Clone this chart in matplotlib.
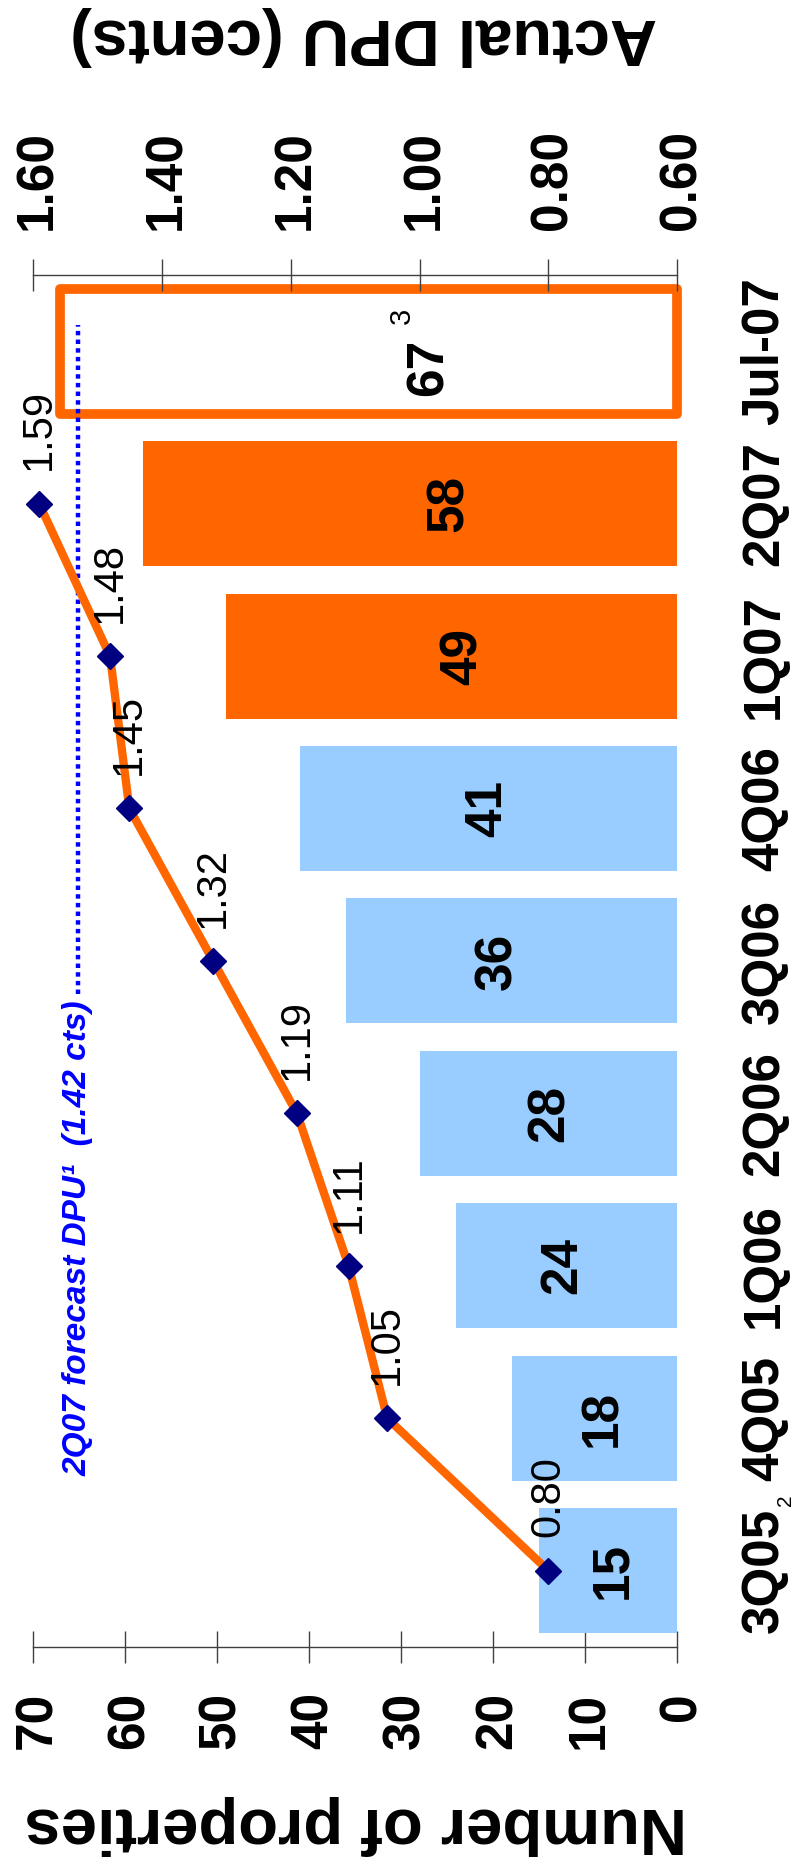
import matplotlib
matplotlib.use("Agg")
import matplotlib.pyplot as plt
from matplotlib import font_manager
from matplotlib.transforms import ScaledTranslation, blended_transform_factory

plt.rcParams['font.family'] = ['Liberation Sans', 'DejaVu Sans']

_installed = {f.name for f in font_manager.fontManager.ttflist}
HAS_NARROW = 'Liberation Sans Narrow' in _installed
NARROW = ['Liberation Sans Narrow', 'Liberation Sans'] if HAS_NARROW else ['Liberation Sans']

# ---- data ----
categories = ["3Q05", "4Q05", "1Q06", "2Q06", "3Q06", "4Q06", "1Q07", "2Q07", "Jul-07"]
properties = [15, 18, 24, 28, 36, 41, 49, 58, 67]
dpu_cents = [0.80, 1.05, 1.11, 1.19, 1.32, 1.45, 1.48, 1.59]
property_ticks = [0, 10, 20, 30, 40, 50, 60, 70]
dpu_ticks = [0.60, 0.80, 1.00, 1.20, 1.40, 1.60]
first_note = "2"      # footnote marker after the first quarter
last_note = "3"       # footnote marker after the latest property count
forecast_text = "2Q07 forecast DPU\u00b9  (1.42 cts)"

# ---- layout / style ----
forecast_line_x = 1.53           # dotted forecast marker, on the DPU scale
forecast_span = (3.78, 8.17)     # category range covered by the dotted marker
forecast_text_start = 0.62
label_shift_pt = [3.2, 6.0, -3.3, 1.0, -9.8, -0.4, 8.2, 28.4, 43.5]  # bar-label nudges

BLUE = '#99CCFF'
ORANGE = '#FF6600'
NAVY = '#000080'
AXIS = '#404040'
bar_colors = [BLUE] * 6 + [ORANGE] * 2 + ['white']

if HAS_NARROW:
    NUM_SIZE, PT_SIZE, NOTE_SIZE = 41, 34.5, 24
else:
    NUM_SIZE, PT_SIZE, NOTE_SIZE = 37, 30, 21
CAT_SIZE = 36.8
TITLE_SIZE = 47

fig = plt.figure(figsize=(7.98, 18.69), dpi=100)
ax = fig.add_axes([0.0409, 0.1188, 0.8080, 0.7341])

pos = list(range(len(categories)))
bars = ax.barh(pos, properties, height=0.82, color=bar_colors, zorder=2)
last = bars[-1]
last.set_edgecolor(ORANGE)
last.set_linewidth(7)
last.set_joinstyle('round')
last.set_clip_on(False)

# value labels inside the bars
for p, v, dx in zip(pos, properties, label_shift_pt):
    dy = -11.5 if p == pos[-1] else 0
    ax.annotate(str(v), (v / 2, p), xytext=(dx, dy), textcoords='offset points',
                rotation=90, ha='center', va='center', fontsize=NUM_SIZE,
                fontweight='bold', family=NARROW, zorder=4)
ax.annotate(last_note, (properties[-1] / 2, pos[-1]), xytext=(24, 25.5),
            textcoords='offset points', rotation=90, ha='center', va='center',
            fontsize=NOTE_SIZE, family=NARROW, zorder=4)

ax.set_xlim(70, 0)
ax.set_ylim(-0.5, len(categories) - 0.5)

# bottom axis: number of properties
ax.set_xticks(property_ticks)
ax.set_xticklabels([str(t) for t in property_ticks], rotation=90,
                   fontsize=NUM_SIZE, fontweight='bold', family=NARROW)
ax.tick_params(axis='x', direction='inout', length=23, width=1,
               color=AXIS, pad=21)

# category labels on the right side
ax.yaxis.tick_right()
ax.set_yticks(pos)
ax.set_yticklabels(categories, rotation=90, fontsize=CAT_SIZE,
                   fontweight='bold', va='center')
ax.tick_params(axis='y', length=0, pad=45)
edge = blended_transform_factory(ax.transAxes, ax.transData)
ax.annotate(first_note, (1, pos[0]), xycoords=edge, xytext=(78, 51),
            textcoords='offset points', rotation=90, ha='center', va='center',
            fontsize=15, annotation_clip=False)

for s in ('left', 'right', 'top'):
    ax.spines[s].set_visible(False)
ax.spines['bottom'].set_color(AXIS)
ax.spines['bottom'].set_linewidth(1)

# top axis: actual DPU
ax2 = ax.twiny()
ax2.set_xlim(1.60, 0.60)
ax2.set_xticks(dpu_ticks)
ax2.set_xticklabels([f"{t:.2f}" for t in dpu_ticks], rotation=90,
                    fontsize=NUM_SIZE, fontweight='bold', family=NARROW)
ax2.tick_params(axis='x', direction='inout', length=23, width=1,
                color=AXIS, pad=21)
for s in ('left', 'right', 'bottom'):
    ax2.spines[s].set_visible(False)
ax2.spines['top'].set_color(AXIS)
ax2.spines['top'].set_linewidth(1)

# centre the rotated digits on their ticks
shift = ScaledTranslation(0.095 * NUM_SIZE / 72, 0, fig.dpi_scale_trans)
for lab in ax.get_xticklabels() + ax2.get_xticklabels():
    lab.set_transform(lab.get_transform() + shift)

ax2.plot(dpu_cents, pos[:len(dpu_cents)], color=ORANGE, lw=6, marker='D',
         ms=13, mfc=NAVY, mec=NAVY, zorder=5, clip_on=False)
for p, v in zip(pos, dpu_cents):
    ax2.annotate(f"{v:.2f}", (v, p), xytext=(0, 24), textcoords='offset points',
                 rotation=90, ha='center', va='bottom', fontsize=PT_SIZE,
                 family=NARROW, zorder=6)

# dotted forecast marker and its caption
ax2.plot([forecast_line_x, forecast_line_x], list(forecast_span),
         color='#0000FF', lw=3.2, ls=(0, (1, 0.95)), zorder=4)
ax2.text(forecast_line_x, forecast_text_start, forecast_text, rotation=90,
         ha='center', va='bottom', color='#0000FF', fontsize=24,
         fontweight='bold', fontstyle='italic', zorder=4)

# axis titles
fig.text(364 / 798, 1 - 36 / 1869, "Actual DPU (cents)", rotation=180,
         ha='center', va='center', fontsize=TITLE_SIZE, fontweight='bold')
fig.text(356 / 798, 1 - 1825 / 1869, "Number of properties", rotation=180,
         ha='center', va='center', fontsize=TITLE_SIZE, fontweight='bold')

fig.savefig('out.png', dpi=100)
